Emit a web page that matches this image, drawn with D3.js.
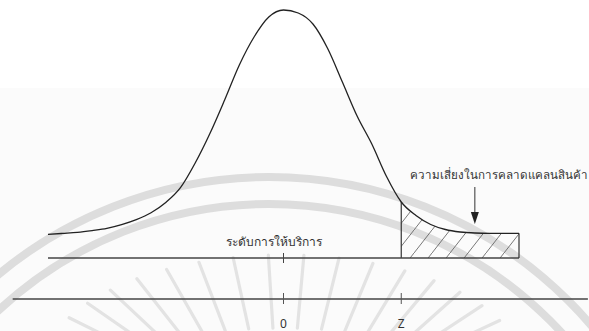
<!DOCTYPE html>
<html>
<head>
<meta charset="utf-8">
<script src="https://cdn.jsdelivr.net/npm/d3@7"></script>
<style>
  html, body { margin: 0; padding: 0; background: #fff; }
  svg { display: block; }
  text { font-family: "Noto Sans", "DejaVu Sans", sans-serif; fill: #333; }
</style>
</head>
<body>
<svg id="chart" width="589" height="331"></svg>
<script>
// ---- data ----
const zValues = [-4, -3.75, -3.5, -3.25, -3, -2.75, -2.5, -2.25, -2, -1.75, -1.5, -1.25, -1, -0.75, -0.5, -0.25,
                 0, 0.25, 0.5, 0.75, 1, 1.25, 1.5, 1.75, 2, 2.25, 2.5, 2.75, 3, 3.25, 3.5, 3.75, 4];
const density = [0.0028, 0.0046, 0.0065, 0.0097, 0.0136, 0.0202, 0.0290, 0.0411, 0.0593, 0.0855, 0.1292, 0.1814,
                 0.2407, 0.3027, 0.3522, 0.3876, 0.4000, 0.3947, 0.3752, 0.3319, 0.2726, 0.2124, 0.1628, 0.1053,
                 0.0602, 0.0363, 0.0204, 0.0115, 0.0071, 0.0053, 0.0048, 0.0048, 0.0048];
const zCut = 2;
const tickValues = [0, 2];
const tickLabels = ["0", "Z"];
const serviceLabel = "ระดับการให้บริการ";
const riskLabel = "ความเสี่ยงในการคลาดแคลนสินค้า";
const arrowZ = 3.25;

const svg = d3.select("#chart");
const W = 589, H = 331;

// ---- decorative watermark background ----
const deco = svg.append("g");
deco.append("rect").attr("x", 0).attr("y", 88).attr("width", W).attr("height", H - 88).attr("fill", "#fbfbfb");
const wmC = [269, 601];
[424, 397].forEach(r => {
  deco.append("circle").attr("cx", wmC[0]).attr("cy", wmC[1]).attr("r", r)
    .attr("fill", "none").attr("stroke", "#dddddd").attr("stroke-width", 8);
});
const rayC = [283, 370];
for (let a = 10; a <= 170; a += 8.5) {
  const t = a * Math.PI / 180;
  const x1 = rayC[0] - 240 * Math.cos(t), y1 = rayC[1] - 115 * Math.sin(t);
  const x2 = rayC[0] - 165 * Math.cos(t), y2 = rayC[1] - 42 * Math.sin(t);
  deco.append("line").attr("x1", x1).attr("y1", y1).attr("x2", x2).attr("y2", y2)
    .attr("stroke", "#e3e3e3").attr("stroke-width", 3.2).attr("stroke-linecap", "round");
}

// ---- scales ----
const x = d3.scaleLinear().domain([-4, 4]).range([48, 519]);
const y = d3.scaleLinear().domain([0, 0.4]).range([236, 10]);
const axisY1 = 258, axisY2 = 299;

const pts = zValues.map((z, i) => ({ z, d: density[i] }));
const tail = pts.filter(p => p.z >= zCut);

// hatch pattern
const defs = svg.append("defs");
const pw = 18, ph = 23;
const pat = defs.append("pattern").attr("id", "hatch").attr("patternUnits", "userSpaceOnUse")
  .attr("width", pw).attr("height", ph);
pat.append("line").attr("x1", -pw).attr("y1", 2 * ph).attr("x2", 2 * pw).attr("y2", -ph)
  .attr("stroke", "#555").attr("stroke-width", 0.8);

// tail area
const area = d3.area().x(p => x(p.z)).y0(axisY1).y1(p => y(p.d)).curve(d3.curveMonotoneX);
svg.append("path").datum(tail).attr("d", area).attr("fill", "url(#hatch)");

// box edges of the tail
const zEnd = zValues[zValues.length - 1];
svg.append("line").attr("x1", x(zCut)).attr("x2", x(zCut))
  .attr("y1", y(density[zValues.indexOf(zCut)])).attr("y2", axisY1)
  .attr("stroke", "#333").attr("stroke-width", 1.2);
svg.append("line").attr("x1", x(zEnd)).attr("x2", x(zEnd))
  .attr("y1", y(density[density.length - 1])).attr("y2", axisY1)
  .attr("stroke", "#333").attr("stroke-width", 1.2);

// curve
const line = d3.line().x(p => x(p.z)).y(p => y(p.d)).curve(d3.curveMonotoneX);
svg.append("path").datum(pts).attr("d", line).attr("fill", "none")
  .attr("stroke", "#222").attr("stroke-width", 1.3);

// axis lines
svg.append("line").attr("x1", x(-4)).attr("x2", x(4)).attr("y1", axisY1).attr("y2", axisY1)
  .attr("stroke", "#444").attr("stroke-width", 1.5);
svg.append("line").attr("x1", x(-4.6)).attr("x2", x(5.17)).attr("y1", axisY2).attr("y2", axisY2)
  .attr("stroke", "#444").attr("stroke-width", 1.3);

// ticks
svg.append("line").attr("x1", x(0)).attr("x2", x(0)).attr("y1", axisY1 - 5).attr("y2", axisY1 + 5)
  .attr("stroke", "#444").attr("stroke-width", 1);
tickValues.forEach((v, i) => {
  svg.append("line").attr("x1", x(v)).attr("x2", x(v)).attr("y1", axisY2 - 6).attr("y2", axisY2 + 5)
    .attr("stroke", "#555").attr("stroke-width", 1);
  svg.append("text").attr("x", x(v)).attr("y", 327.5).attr("text-anchor", "middle")
    .attr("font-size", 12).text(tickLabels[i]);
});

// labels
svg.append("text").attr("x", 274).attr("y", 246).attr("text-anchor", "middle")
  .attr("font-size", 12).text(serviceLabel);
svg.append("text").attr("x", 410).attr("y", 179).attr("text-anchor", "start")
  .attr("font-size", 11.6).text(riskLabel);

// arrow
const ax = x(arrowZ);
svg.append("line").attr("x1", ax).attr("x2", ax).attr("y1", 187).attr("y2", 213)
  .attr("stroke", "#333").attr("stroke-width", 1);
svg.append("path").attr("d", `M${ax - 4},212 L${ax + 4},212 L${ax},224 Z`).attr("fill", "#222");
</script>
</body>
</html>
